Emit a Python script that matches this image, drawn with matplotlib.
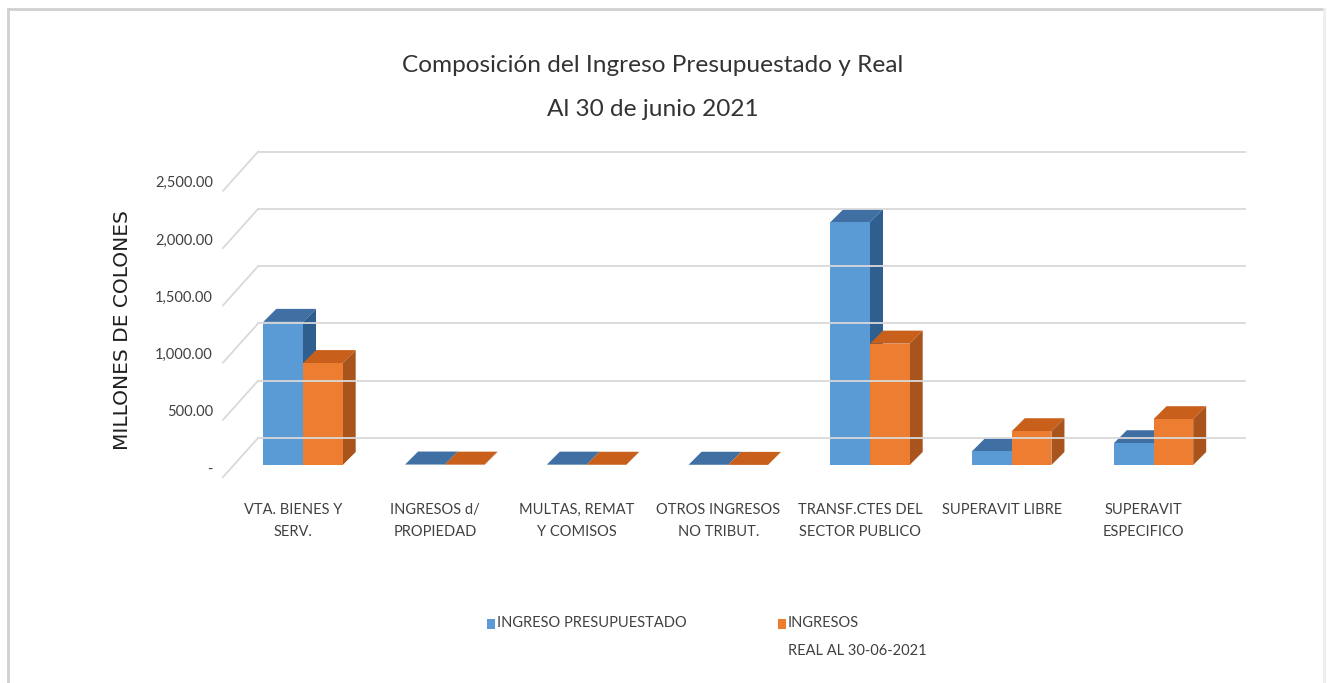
import numpy as np
import matplotlib.pyplot as plt
from matplotlib.patches import Polygon, Rectangle
from matplotlib.lines import Line2D

# datos (millones de colones)
categorias = ['VTA. BIENES Y\nSERV.', 'INGRESOS d/\nPROPIEDAD', 'MULTAS, REMAT\nY COMISOS',
              'OTROS INGRESOS\nNO TRIBUT.', 'TRANSF.CTES DEL\nSECTOR PUBLICO',
              'SUPERAVIT LIBRE', 'SUPERAVIT\nESPECIFICO']
presupuestado = [1250, 4, 3, 2, 2120, 120, 190]
real = [890, 3, 2, 1, 1060, 295, 400]
ticks = [0, 500, 1000, 1500, 2000, 2500]
tick_labels = ['-', '500.00', '1,000.00', '1,500.00', '2,000.00', '2,500.00']
series = ['INGRESO PRESUPUESTADO', 'INGRESOS\nREAL AL 30-06-2021']

W, H = 1334, 683
fig = plt.figure(figsize=(W / 100, H / 100), dpi=100)

# escala: 1 categoria = 141.75 px, 1 unidad = 0.1145 px
sx, sy = 141.75, 0.1145
x0, y0 = 303, 465
ax = fig.add_axes([0, 0, 1, 1])
ax.set_xlim(-x0 / sx, (W - x0) / sx)
ax.set_ylim((y0 - H) / sy, y0 / sy)
ax.axis('off')

def px(x, y):
    return x / W, 1 - y / H

# profundidad de las barras y de la pared
DX, DY = 13 / sx, 13 / sy
FX, FY = -11 / sx, -105
BX, BY = 24 / sx, 236
x_izq = -0.564
x_der = 6.645
grid_c = '#d9d9d9'

for v in ticks:
    ax.plot([x_izq, x_izq + (BX - FX)], [v + FY, v + BY], color=grid_c, lw=1.3)
    ax.plot([x_izq + (BX - FX), x_der], [v + BY, v + BY], color=grid_c, lw=1.3)

colores = [('#5b9bd5', '#3f6fa3', '#2f5f8f'), ('#ed7d31', '#c8601c', '#a9541c')]
w = 0.28

def barra(x, h, cols):
    front, top, side = cols
    ax.add_patch(Polygon([(x, h), (x + w, h), (x + w + DX, h + DY), (x + DX, h + DY)],
                         closed=True, fc=top, ec='none'))
    ax.add_patch(Polygon([(x + w, 0), (x + w + DX, DY), (x + w + DX, h + DY), (x + w, h)],
                         closed=True, fc=side, ec='none'))
    if h > 0:
        ax.add_patch(Rectangle((x, 0), w, h, fc=front, ec='none'))

for i in range(len(categorias)):
    barra(i - w, presupuestado[i], colores[0])
    barra(i, real[i], colores[1])

# etiquetas del eje y
fuente = 'Lato'
for v, t in zip(ticks, tick_labels):
    ax.text(-0.635, v - 40, t, ha='right', va='center', fontsize=10.5,
            family=fuente, color='#404040')

for i, c in enumerate(categorias):
    ax.text(i - 0.07, -330, c, ha='center', va='top', fontsize=10.5,
            family=fuente, color='#404040', linespacing=1.75)

fig.text(*px(123, 330), 'MILLONES DE COLONES', rotation=90, ha='center', va='center',
         fontsize=14.5, color='#1f1f1f', family='DejaVu Sans')

fig.text(*px(653, 66), 'Composición del Ingreso Presupuestado y Real', ha='center',
         va='center', fontsize=17.6, family='Lato', color='#333333')
fig.text(*px(653, 110), 'Al 30 de junio 2021', ha='center', va='center',
         fontsize=17.6, family='Lato', color='#333333')

# leyenda
for (lx, txt), cols in zip([(497, series[0]), (788, series[1])], colores):
    fig.patches.append(Rectangle(px(lx - 10, 629), 8 / W, 10 / H, fc=cols[0], ec='none',
                                 transform=fig.transFigure))
    fig.text(*px(lx, 616), txt, ha='left', va='top', fontsize=10.5, family=fuente,
             color='#404040', linespacing=2.3)

# marco
marco = [([8, 8], [683, 9], '#d0d0d0'), ([8, 1324], [9, 9], '#d0d0d0'),
         ([1324, 1324], [9, 683], '#eeeeee')]
for xs, ys, c in marco:
    fig.add_artist(Line2D([x / W for x in xs], [1 - y / H for y in ys], color=c, lw=2,
                          transform=fig.transFigure))

fig.savefig('out.png', dpi=100)
